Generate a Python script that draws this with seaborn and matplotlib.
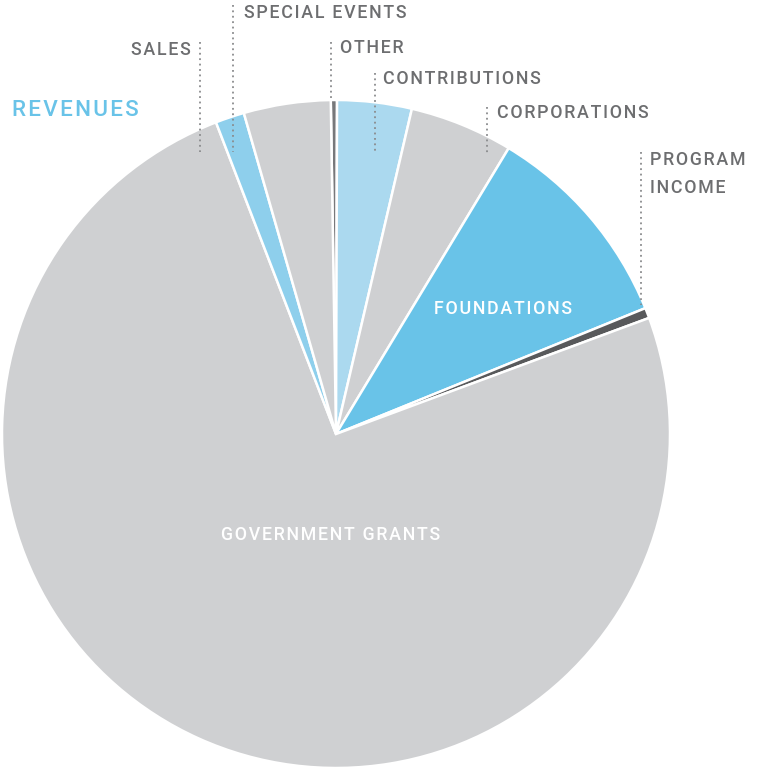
import matplotlib
matplotlib.use("Agg")
import matplotlib.pyplot as plt
import seaborn as sns

# revenue shares (%), clockwise from 12 o'clock
categories = ["OTHER", "CONTRIBUTIONS", "CORPORATIONS", "FOUNDATIONS",
              "PROGRAM\nINCOME", "GOVERNMENT GRANTS", "SALES", "SPECIAL EVENTS"]
shares = [0.3, 3.6, 5.0, 10.2, 0.5, 74.8, 1.4, 4.2]
colors = ["#77787b", "#abd9ef", "#cfd0d2", "#69c3e8",
          "#58595b", "#cfd0d2", "#8ecfec", "#cfd0d2"]

W, H = 775, 770
CX, CY, R = 336, 434, 334
GRAY = "#6d6e70"


def py(y):
    # pixel row -> data y
    return H - y


def spaced(s):
    # fake letter-spacing with hair spaces
    return "\n".join("\u200a".join(line) for line in s.split("\n"))


sns.set_theme(style="white")
plt.rcParams["font.family"] = ["Roboto", "DejaVu Sans"]

fig = plt.figure(figsize=(W / 100, H / 100), dpi=100)
ax = fig.add_axes([0, 0, 1, 1])
ax.pie(shares, colors=colors, startangle=90.9, counterclock=False,
       center=(CX, py(CY)), radius=R,
       wedgeprops=dict(edgecolor="white", linewidth=1.8))
ax.set_xlim(0, W)
ax.set_ylim(0, H)
ax.set_aspect("auto")
ax.axis("off")

# outside labels with dotted leaders: (text, text x, text y, line x, line top, line bottom)
outside = [
    ("SALES", 191, 50, 200, 42, 152, "right"),
    ("SPECIAL EVENTS", 244, 13, 233, 5, 152, "left"),
    ("OTHER", 340, 48, 331, 42, 100, "left"),
    ("CONTRIBUTIONS", 383, 79, 375, 73, 153, "left"),
    ("CORPORATIONS", 497, 113, 487, 107, 153, "left"),
    ("PROGRAM\nINCOME", 650, 174, 641, 152, 305, "left"),
]
for txt, tx, ty, lx, y0, y1, ha in outside:
    ax.plot([lx, lx], [py(y0), py(y1)], color="#8a8b8d", lw=1.3,
            linestyle=(0, (1, 2)))
    ax.text(tx, py(ty), spaced(txt), ha=ha, va="center", fontsize=12.8,
            color=GRAY, fontweight="medium", linespacing=1.75)

ax.text(503, py(309), spaced("FOUNDATIONS"), ha="center", va="center",
        fontsize=12.8, color="white", fontweight="medium")
ax.text(331, py(535), spaced("GOVERNMENT GRANTS"), ha="center", va="center",
        fontsize=12.8, color="white", fontweight="medium")
ax.text(12, py(110), spaced("REVENUES"), ha="left", va="center",
        fontsize=16.2, color="#69c3e8", fontweight="medium")

fig.savefig("out.png", dpi=100)
